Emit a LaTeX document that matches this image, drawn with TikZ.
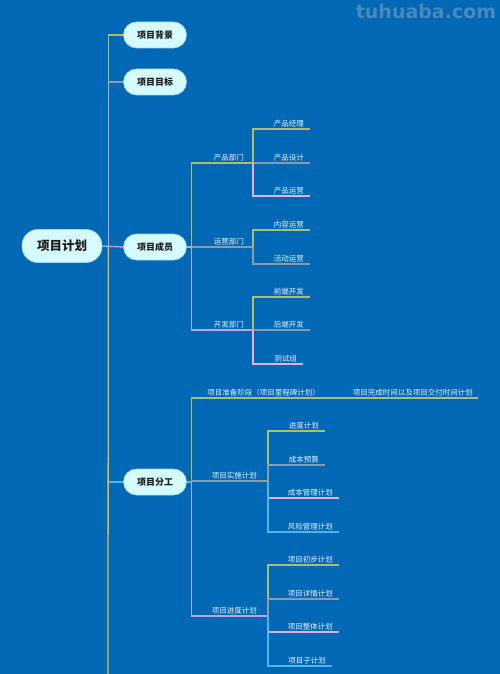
\documentclass[tikz,border=0pt]{standalone}
\usepackage{fontspec}
\setmainfont{Noto Sans CJK SC}
\newfontfamily\markfont{DejaVu Sans}
\usetikzlibrary{calc}
\definecolor{bgblue}{HTML}{0068B5}
\definecolor{pillfill}{HTML}{D6FBFF}
\definecolor{pillline}{HTML}{A8D8F0}
\definecolor{pilltext}{HTML}{1E1E1E}
\definecolor{leaftext}{HTML}{EAF4FF}
\definecolor{markc}{HTML}{4A88BE}
\definecolor{colA}{HTML}{B0BC66}
\definecolor{colB}{HTML}{8C9AAC}
\definecolor{colC}{HTML}{E4B0E0}
\definecolor{colD}{HTML}{50B4E4}
\definecolor{colE}{HTML}{BCA6DE}
\definecolor{colT}{HTML}{D8A4A8}
\definecolor{colY}{HTML}{E8B840}
\tikzset{
  rootpill/.style={rectangle, rounded corners=16pt, fill=pillfill, draw=pillline,
    line width=0.6pt, minimum width=80pt, minimum height=33pt,
    font=\fontsize{12.5}{14}\selectfont\bfseries, text=pilltext},
  pill/.style={rectangle, rounded corners=13pt, fill=pillfill, draw=pillline,
    line width=0.6pt, minimum width=63pt, minimum height=26pt,
    font=\fontsize{9}{10}\selectfont\bfseries, text=pilltext},
  leaf/.style={anchor=south east, inner xsep=6pt, inner ysep=2pt,
    font=\fontsize{7.5}{8}\selectfont, text=leaftext},
  branch/.style={leaf, inner xsep=9pt},
  lnA/.style={draw=colA, line width=1.3pt},
  lnB/.style={draw=colB, line width=1.3pt},
  lnC/.style={draw=colC, line width=1.3pt},
  lnD/.style={draw=colD, line width=1.3pt},
  lnE/.style={draw=colE, line width=1.3pt},
  lnT/.style={draw=colT, line width=1.3pt},
  lnY/.style={draw=colY, line width=1.3pt}
}

\begin{document}
\begin{tikzpicture}[x=1pt, y=-1pt]

\useasboundingbox (0,0) rectangle (500,674);
\fill[bgblue] (0,0) rectangle (500,674);
\node[font=\markfont\bfseries\fontsize{19}{20}\selectfont, text=markc] (mark) at (426,11) {tuhuaba.com};

%% Root and first level
\node[rootpill] (plan) at (62,246) {项目计划};
\node[pill] (bg) at (155,35)  {项目背景};
\node[pill] (mb) at (155,82)  {项目目标};
\node[pill] (cy) at (155,247) {项目成员};
\node[pill] (fg) at (155,482) {项目分工};

\coordinate (trunk) at ([xshift=6pt]plan.east);
\coordinate (more)  at (108,674);

%% ── Root → first level
\draw[lnA] (trunk) |- (bg.west);
\draw[lnB] (trunk) |- (mb.west);
\draw[lnT] (trunk) -- (trunk |- mb.west);
\draw[lnD] (trunk) |- (fg.west);
\draw[lnY] (trunk) -- (more);
\draw[lnE] (plan.east) -- (cy.west);

%% ── 项目成员
\node[branch] (pd) at (253,163) {产品部门};
\node[branch] (yy) at (253,247) {运营部门};
\node[branch] (kf) at (253,330) {开发部门};

\node[leaf] (pm)  at (310,129) {产品经理};
\node[leaf] (psj) at (310,163) {产品设计};
\node[leaf] (pyy) at (310,196) {产品运营};
\node[leaf] (nr)  at (310,230) {内容运营};
\node[leaf] (hd)  at (310,264) {活动运营};
\node[leaf] (qd)  at (310,297) {前端开发};
\node[leaf] (hdk) at (310,330) {后端开发};
\node[leaf] (cs)  at (303,364) {测试组};

\coordinate (cyb) at ([xshift=5pt]cy.east);
\draw[lnE] (cy.east) -- (cyb);
\draw[lnA] (cyb) |- (pd.south east);
\draw[lnB] (cyb) |- (yy.south east);
\draw[lnE] (cyb) |- (kf.south east);

\draw[lnA] (pd.south east) |- (pm.south east);
\draw[lnB] (pd.south east) |- (psj.south east);
\draw[lnC] (pd.south east) |- (pyy.south east);
\draw[lnA] (yy.south east) |- (nr.south east);
\draw[lnB] (yy.south east) |- (hd.south east);
\draw[lnA] (kf.south east) |- (qd.south east);
\draw[lnB] (kf.south east) |- (hdk.south east);
\draw[lnC] (kf.south east) |- (cs.south east);

%% ── 项目分工
\node[branch, inner xsep=10pt] (zb) at (330,398) {项目准备阶段（项目里程碑计划）};
\node[leaf, inner xsep=5pt] (wc) at (478,398) {项目完成时间以及项目交付时间计划};
\node[branch, inner xsep=11pt] (ss) at (268,481) {项目实施计划};
\node[branch, inner xsep=11pt] (jd) at (268,616) {项目进度计划};

\node[leaf] (jdjh) at (325,431) {进度计划};
\node[leaf] (cbys) at (325,465) {成本预算};
\node[leaf] (cbgl) at (339,498) {成本管理计划};
\node[leaf] (fxgl) at (339,532) {风险管理计划};
\node[leaf] (cb)   at (339,565) {项目初步计划};
\node[leaf] (xq)   at (339,599) {项目详情计划};
\node[leaf] (zt)   at (339,632) {项目整体计划};
\node[leaf] (zjh)  at (332,666) {项目子计划};

\coordinate (fgb) at ([xshift=5pt]fg.east);
\draw[lnD] (fg.east) -- (fgb);
\draw[lnA] (fgb) |- (zb.south east);
\draw[lnB] (fgb) |- (ss.south east);
\draw[lnE] (fgb) |- (jd.south east);
\draw[lnA] (zb.south east) -- (wc.south east);

\draw[lnA] (ss.south east) |- (jdjh.south east);
\draw[lnB] (ss.south east) |- (cbys.south east);
\draw[lnC] (ss.south east) |- (cbgl.south east);
\draw[lnD] (ss.south east) |- (fxgl.south east);
\draw[lnA] (jd.south east) |- (cb.south east);
\draw[lnB] (jd.south east) |- (xq.south east);
\draw[lnC] (jd.south east) |- (zt.south east);
\draw[lnD] (jd.south east) |- (zjh.south east);

\end{tikzpicture}
\end{document}
